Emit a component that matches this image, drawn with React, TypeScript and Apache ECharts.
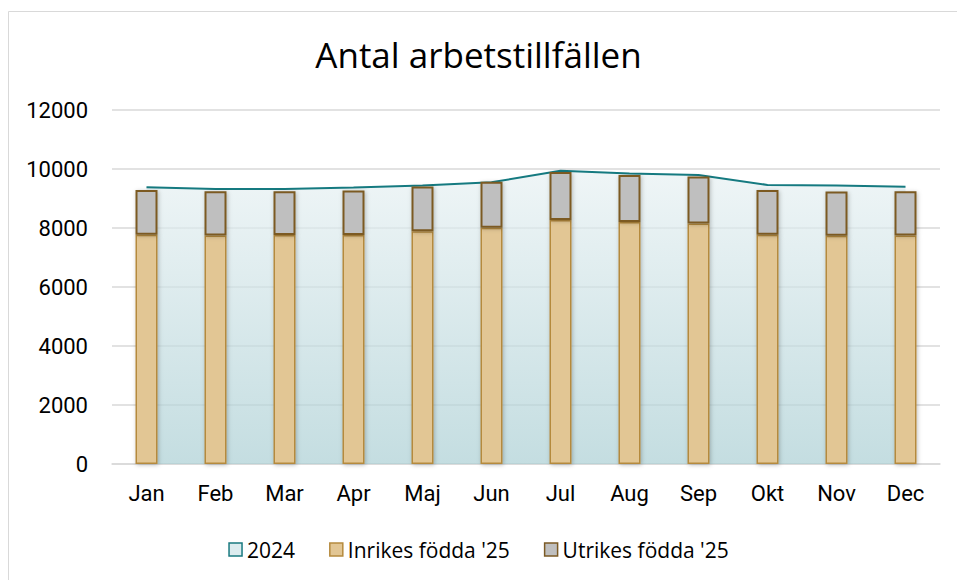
import React, { useEffect, useRef } from "react";
import * as echarts from "echarts";

const months = ["Jan", "Feb", "Mar", "Apr", "Maj", "Jun", "Jul", "Aug", "Sep", "Okt", "Nov", "Dec"];
const total2024 = [9380, 9320, 9320, 9370, 9440, 9550, 9940, 9850, 9800, 9460, 9440, 9400];
const inrikes25 = [7770, 7750, 7760, 7760, 7890, 8010, 8270, 8200, 8150, 7770, 7740, 7750];
const utrikes25 = [1520, 1500, 1490, 1510, 1520, 1560, 1630, 1600, 1600, 1520, 1500, 1500];
const yTicks = [0, 2000, 4000, 6000, 8000, 10000, 12000];

const FONT = "Roboto, 'Noto Sans', sans-serif";
const WIDE = "'Open Sans', Roboto, sans-serif";

export default function App() {
  const ref = useRef<HTMLDivElement>(null);
  useEffect(() => {
    if (!ref.current) return;
    const chart = echarts.init(ref.current, null, { renderer: "svg" });
    chart.setOption({
      animation: false,
      backgroundColor: "#ffffff",
      textStyle: { fontFamily: FONT },
      title: {
        text: "Antal arbetstillfällen",
        left: "center",
        top: 32,
        textStyle: { fontFamily: WIDE, fontSize: 35, fontWeight: "normal", color: "#000" },
      },
      graphic: [
        {
          type: "rect",
          shape: { x: 8.5, y: 11.5, width: 960, height: 580 },
          style: { fill: "none", stroke: "#d9d9d9", lineWidth: 1 },
          silent: true,
        },
      ],
      legend: {
        top: 534,
        left: "center",
        icon: "rect",
        itemWidth: 13,
        itemHeight: 13,
        itemGap: 34,
        textStyle: { fontFamily: WIDE, fontSize: 21, color: "#000", padding: [0, 0, 0, 0] },
        data: [
          { name: "2024", itemStyle: { color: "#dcecef", borderColor: "#1a7a80", borderWidth: 1.5 } },
          { name: "Inrikes födda '25", itemStyle: { color: "#e2c694", borderColor: "#b58a3e", borderWidth: 1.5 } },
          { name: "Utrikes födda '25", itemStyle: { color: "#bfbfbf", borderColor: "#7b5a24", borderWidth: 1.5 } },
        ],
      },
      grid: { left: 112, right: 17, top: 110, height: 354 },
      xAxis: {
        type: "category",
        data: months,
        boundaryGap: true,
        axisLine: { lineStyle: { color: "#d9d9d9", width: 1.5 } },
        axisTick: { show: false },
        axisLabel: { fontFamily: FONT, fontSize: 22, color: "#000", margin: 18 },
      },
      yAxis: {
        type: "value",
        min: yTicks[0],
        max: yTicks[yTicks.length - 1],
        interval: 2000,
        axisLine: { show: false },
        axisTick: { show: false },
        splitLine: { lineStyle: { color: "#d9d9d9", width: 1.5 } },
        axisLabel: {
          fontFamily: FONT,
          fontSize: 22,
          color: "#000",
          margin: 24,
          formatter: (v: number) => String(v),
        },
      },
      series: [
        {
          name: "2024",
          type: "line",
          data: total2024,
          symbol: "none",
          z: 1,
          lineStyle: { color: "#157a80", width: 2 },
          itemStyle: { color: "#157a80" },
          areaStyle: {
            color: {
              type: "linear",
              x: 0,
              y: 0,
              x2: 0,
              y2: 1,
              colorStops: [
                { offset: 0, color: "#e8f1f3" },
                { offset: 1, color: "#abcfd4" },
              ],
            },
          },
        },
        {
          name: "Inrikes födda '25",
          type: "bar",
          stack: "s",
          data: inrikes25,
          barWidth: 22,
          z: 3,
          itemStyle: {
            color: "#e2c694",
            borderColor: "#b58a3e",
            borderWidth: 1.5,
            shadowBlur: 4,
            shadowColor: "rgba(0,0,0,0.25)",
            shadowOffsetX: 1,
            shadowOffsetY: 1,
          },
        },
        {
          name: "Utrikes födda '25",
          type: "bar",
          stack: "s",
          data: utrikes25,
          barWidth: 22,
          z: 3,
          itemStyle: {
            color: "#bfbfbf",
            borderColor: "#7b5a24",
            borderWidth: 2,
            shadowBlur: 4,
            shadowColor: "rgba(0,0,0,0.25)",
            shadowOffsetX: 1,
            shadowOffsetY: 1,
          },
        },
      ],
    });
    return () => chart.dispose();
  }, []);
  return (
    <div
      ref={ref}
      style={{ position: "absolute", left: 0, top: 0, width: 957, height: 580 }}
    />
  );
}
